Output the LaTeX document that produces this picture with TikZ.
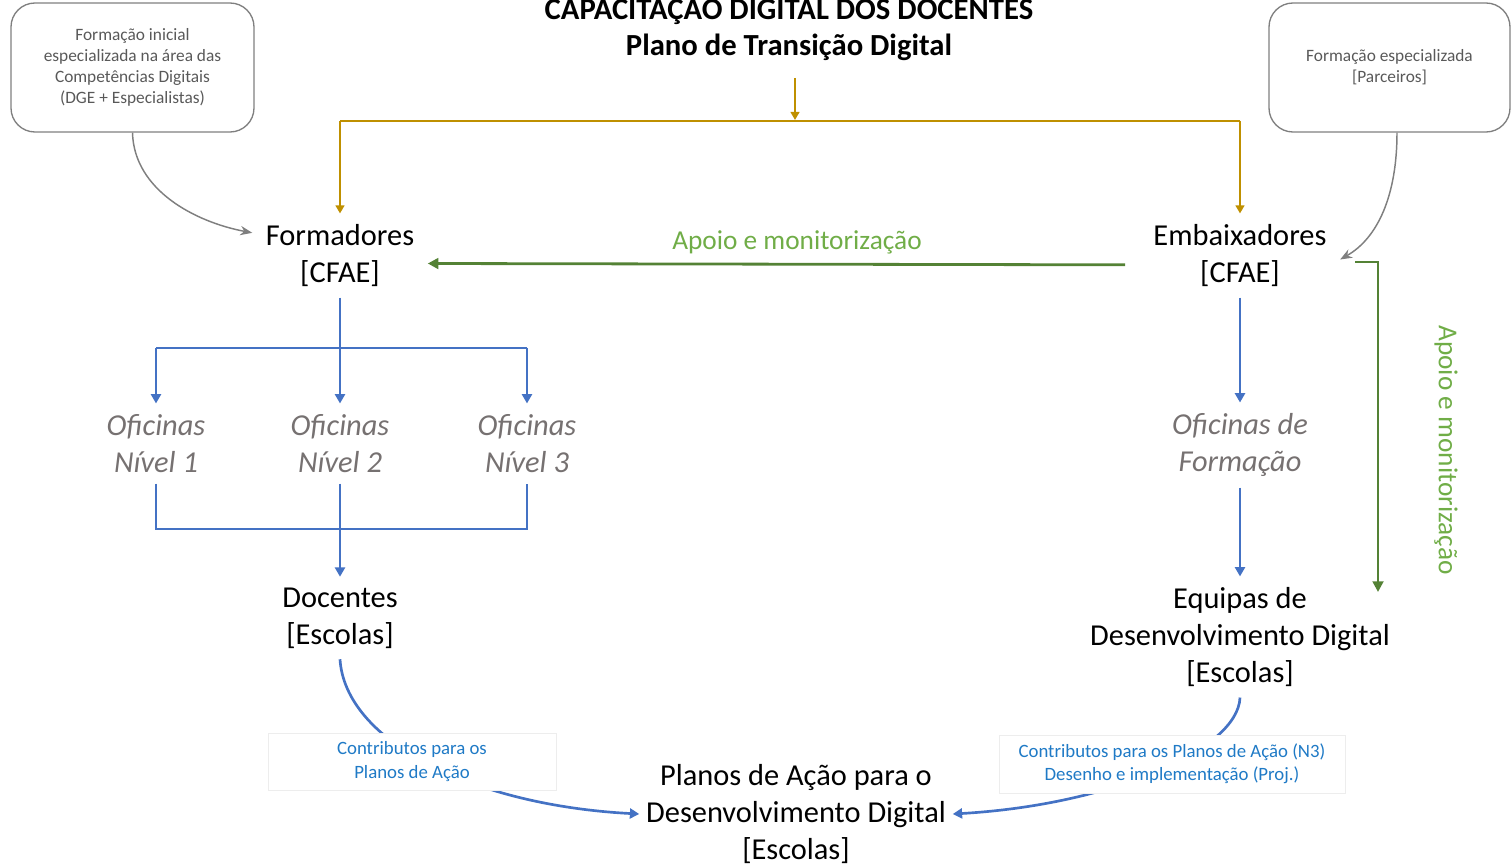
\documentclass[tikz,border=0pt]{standalone}
\usepackage{fontspec}
\setmainfont{Carlito}
\usetikzlibrary{arrows.meta}
\definecolor{goldc}{HTML}{BF9000}
\definecolor{bluec}{HTML}{4472C4}
\definecolor{greenc}{HTML}{548235}
\definecolor{greent}{HTML}{70AD47}
\definecolor{lblc}{HTML}{1F7AC6}
\definecolor{ofic}{HTML}{767171}
\definecolor{boxg}{HTML}{7F7F7F}
\definecolor{boxt}{HTML}{595959}
\begin{document}
\begin{tikzpicture}[x=0.75pt,y=-0.75pt,
  mainnode/.style={align=center,inner sep=8pt,font=\fontsize{22.8}{27.75}\selectfont},
  ofinode/.style={mainnode,text=ofic,font=\fontsize{22.8}{27.75}\selectfont\itshape},
  srcbox/.style={draw=boxg,line width=1pt,rounded corners=18pt,align=center,text=boxt,
    font=\fontsize{13}{15.6}\selectfont,inner sep=0pt},
  lblbox/.style={fill=white,draw=black!7,line width=0.5pt,align=center,text=lblc,
    font=\fontsize{14.1}{17.4}\selectfont,inner sep=0pt},
  blueline/.style={draw=bluec,line width=2pt},
  bluearr/.style={blueline,-{Triangle[length=7pt,width=7.5pt]}},
  goldline/.style={draw=goldc,line width=1.6pt},
  goldarr/.style={goldline,-{Triangle[length=6pt,width=6.5pt]}},
  greenarr/.style={draw=greenc,line width=2.1pt,-{Triangle[length=8pt,width=8pt]}},
  grayarr/.style={draw=boxg,line width=1.1pt,-{Stealth[length=9pt,width=7pt]}},
  greenlbl/.style={text=greent,font=\fontsize{20.5}{24}\selectfont,inner sep=0pt}
]
\useasboundingbox (0,0) rectangle (1511,866);

% title
\node[align=center,font=\fontsize{23}{27}\selectfont\bfseries,inner sep=0pt] (title) at (789,28)
  {CAPACITAÇÃO DIGITAL DOS DOCENTES\\Plano de Transição Digital};

% source boxes
\node[srcbox,minimum width=182.25pt,minimum height=96.75pt] (ini) at (132.5,67.5)
  {Formação inicial\\especializada na área das\\Competências Digitais\\(DGE + Especialistas)};
\node[srcbox,minimum width=180.75pt,minimum height=96.75pt] (par) at (1389.5,67.5)
  {Formação especializada\\{}[Parceiros]};

% main nodes
\node[mainnode] (form) at (340,255.5) {Formadores\\{}[CFAE]};
\node[mainnode] (emb) at (1240,255.5) {Embaixadores\\{}[CFAE]};
\node[ofinode] (o1) at (156,443.5) {Oficinas\\Nível 1};
\node[ofinode] (o2) at (340,443.5) {Oficinas\\Nível 2};
\node[ofinode] (o3) at (527,443.5) {Oficinas\\Nível 3};
\node[ofinode] (of) at (1240,445) {Oficinas de\\Formação};
\node[mainnode] (doc) at (340,618) {Docentes\\{}[Escolas]};
\node[mainnode] (eq) at (1240,637) {Equipas de\\Desenvolvimento Digital\\{}[Escolas]};
\node[mainnode] (plan) at (796,814) {Planos de Ação para o\\Desenvolvimento Digital\\{}[Escolas]};

% gold connectors
\coordinate (gsrc) at (795,78);
\draw[goldarr] (gsrc) -- (795,120);
\draw[goldline] (form.north |- 0,121) -- (emb.north |- 0,121);
\draw[goldarr] (form.north |- 0,121) -- (form.north);
\draw[goldarr] (emb.north |- 0,121) -- (emb.north);

% gray curves
\draw[grayarr] (ini.south) .. controls (134,190) and (195,222) .. ([yshift=17pt,xshift=-2pt]form.west);
\draw[grayarr] (par.south -| 1397,0) .. controls (1397,195) and (1378,238) .. ([xshift=2pt,yshift=-3pt]emb.east);

% green connectors
\draw[greenarr] ([xshift=-13pt,yshift=-7pt]emb.west) -- ([xshift=2pt,yshift=-6pt]form.east);
\node[greenlbl] (lblh) at (797,242) {Apoio e monitorização};
\coordinate (gend) at (1378,592);
\draw[greenarr] (1355,262) -| (gend);
\node[greenlbl,rotate=-90] (lblv) at (1446,450) {Apoio e monitorização};

% blue tree left
\draw[blueline] (form.south) -- (340,348) coordinate (j1);
\draw[blueline] (o1.north |- j1) -- (o3.north |- j1);
\draw[bluearr] (o1.north |- j1) -- (o1.north);
\draw[bluearr] (j1) -- (o2.north);
\draw[bluearr] (o3.north |- j1) -- (o3.north);
\draw[blueline] (o1.south) -- (156,529) coordinate (j2) -- (o3.south |- j2) -- (o3.south);
\draw[bluearr] (o2.south) -- (doc.north);

% blue right
\draw[bluearr] (emb.south) -- (of.north);
\draw[bluearr] (of.south) -- (eq.north);

% bottom curves
\draw[bluearr] (doc.south) .. controls (345,740) and (470,805) .. ([xshift=3pt]plan.west);
\draw[bluearr] (eq.south) .. controls (1238,750) and (1110,805) .. ([xshift=-3pt]plan.east);

% label boxes
\node[lblbox,minimum width=216pt,minimum height=42.75pt] (lbl1) at (412,761.5)
  {Contributos para os\\Planos de Ação};
\node[lblbox,minimum width=259.5pt,minimum height=43.5pt] (lbl2) at (1172,764)
  {Contributos para os Planos de Ação (N3)\\Desenho e implementação (Proj.)};
\end{tikzpicture}
\end{document}
